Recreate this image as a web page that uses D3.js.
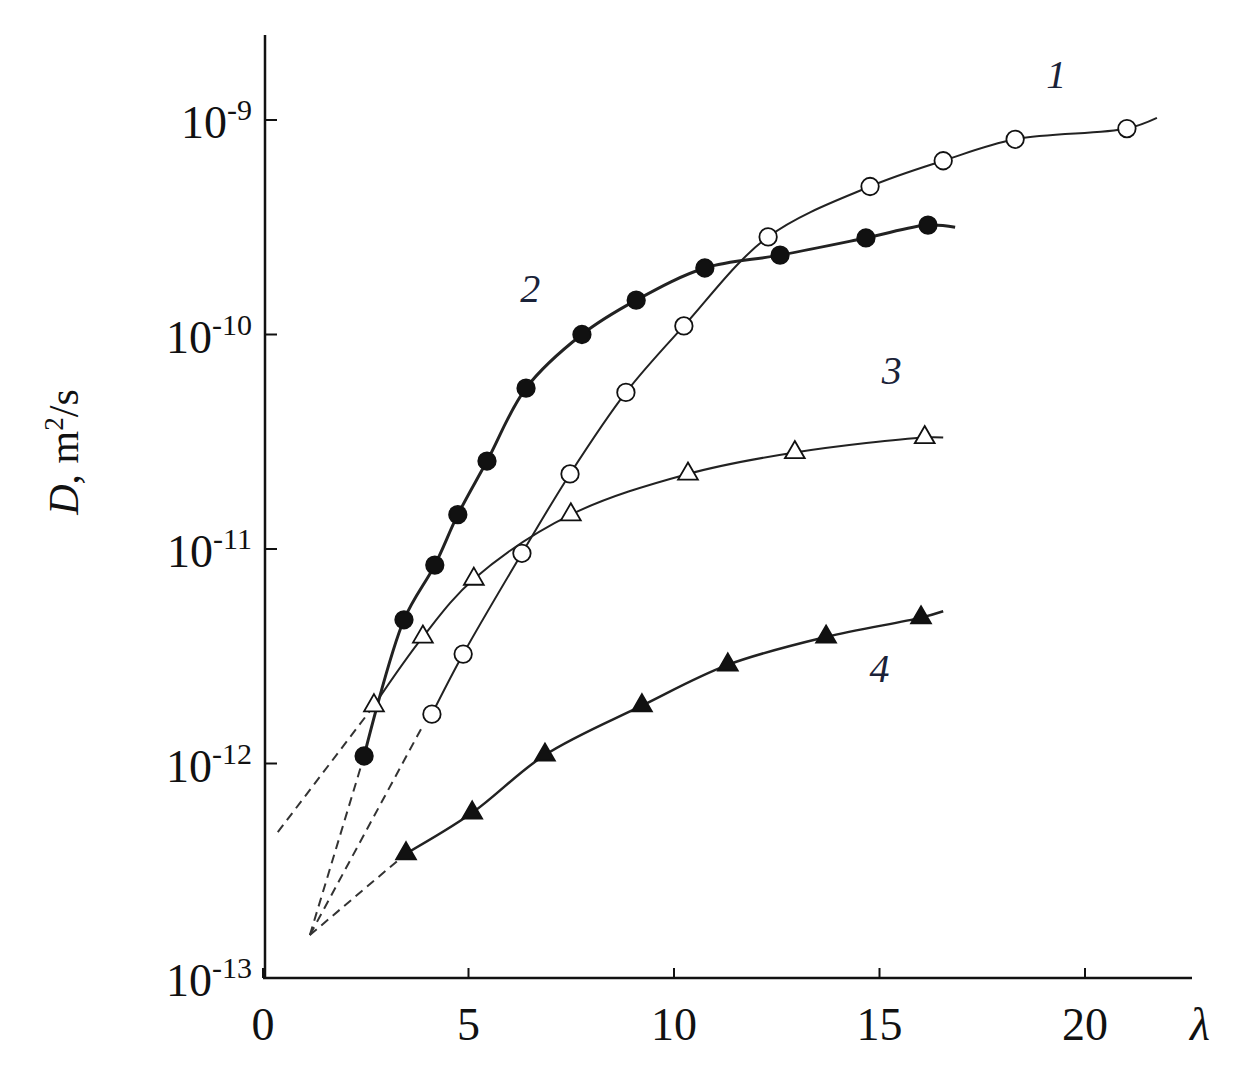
<!DOCTYPE html>
<html><head><meta charset="utf-8">
<script src="https://cdn.jsdelivr.net/npm/d3@7"></script>
<style>body{margin:0;background:#fff}</style>
</head><body>
<svg id="chart" width="1256" height="1080"></svg>
<script>
// Data: x = lambda, y = log10(D)
var series1 = [[4.11,-11.77],[4.87,-11.49],[6.30,-11.02],[7.47,-10.65],[8.83,-10.27],[10.24,-9.96],[12.29,-9.545],[14.77,-9.31],[16.55,-9.19],[18.30,-9.09],[21.02,-9.04]];
var series1End = [21.75,-8.99];
var series2 = [[2.46,-11.965],[3.43,-11.33],[4.18,-11.075],[4.74,-10.84],[5.45,-10.59],[6.40,-10.25],[7.76,-10.0],[9.08,-9.84],[10.75,-9.69],[12.58,-9.63],[14.67,-9.55],[16.18,-9.49]];
var series2End = [16.84,-9.50];
var series3 = [[2.70,-11.73],[3.89,-11.41],[5.13,-11.14],[7.49,-10.84],[10.34,-10.65],[12.94,-10.55],[16.10,-10.48]];
var series3End = [16.55,-10.48];
var series4 = [[3.48,-12.42],[5.09,-12.23],[6.86,-11.96],[9.22,-11.73],[11.31,-11.54],[13.70,-11.41],[16.01,-11.32]];
var series4End = [16.55,-11.29];
var dashed = [
  [[0.36,-12.32],[2.70,-11.73]],
  [[1.14,-12.80],[2.46,-11.965]],
  [[1.14,-12.80],[3.90,-11.82]],
  [[1.14,-12.80],[3.48,-12.42]]
];
var xTicks = [0,5,10,15,20];
var yTicks = [-13,-12,-11,-10,-9];
var curveLabels = [["1",19.3,-8.85],["2",6.5,-9.85],["3",15.3,-10.23],["4",15.0,-11.62]];

var svg = d3.select("#chart");
var x = d3.scaleLinear().domain([0,20]).range([263,1085]);
var y = d3.scaleLinear().domain([-13,-9]).range([978,120]);
var font = "'Liberation Serif','DejaVu Serif',serif";

// axes
svg.append("line").attr("x1",263).attr("x2",1192).attr("y1",978).attr("y2",978).attr("stroke","#111").attr("stroke-width",2.5);
svg.append("line").attr("x1",265).attr("x2",265).attr("y1",35).attr("y2",978).attr("stroke","#111").attr("stroke-width",2.5);

xTicks.forEach(function(t){
  svg.append("line").attr("x1",x(t)).attr("x2",x(t)).attr("y1",978).attr("y2",968).attr("stroke","#111").attr("stroke-width",2);
  svg.append("text").attr("x",x(t)).attr("y",1040).attr("text-anchor","middle")
    .attr("font-family",font).attr("font-size",46).attr("fill","#111").text(t);
});
svg.append("text").attr("x",1200).attr("y",1040).attr("text-anchor","middle").attr("font-family",font)
  .attr("font-style","italic").attr("font-size",46).attr("fill","#111").text("λ");

yTicks.forEach(function(t){
  svg.append("line").attr("x1",265).attr("x2",277).attr("y1",y(t)).attr("y2",y(t)).attr("stroke","#111").attr("stroke-width",2);
  var tx = svg.append("text").attr("x",252).attr("y",y(t)+18).attr("text-anchor","end")
    .attr("font-family",font).attr("font-size",46).attr("fill","#111");
  tx.append("tspan").text("10");
  tx.append("tspan").attr("dy",-18).attr("font-size",30).text(String(t).replace("-","-"));
});

var ylab = svg.append("text").attr("transform","translate(78,452) rotate(-90)").attr("text-anchor","middle")
  .attr("font-family",font).attr("font-size",42).attr("fill","#111");
ylab.append("tspan").attr("font-style","italic").text("D");
ylab.append("tspan").text(", m");
ylab.append("tspan").attr("dy",-15).attr("font-size",27).text("2");
ylab.append("tspan").attr("dy",15).text("/s");

var line = d3.line().x(function(d){return x(d[0]);}).y(function(d){return y(d[1]);}).curve(d3.curveCatmullRom);

dashed.forEach(function(d){
  svg.append("path").attr("d",d3.line().x(function(p){return x(p[0]);}).y(function(p){return y(p[1]);})(d))
    .attr("fill","none").attr("stroke","#333").attr("stroke-width",2).attr("stroke-dasharray","9,6");
});

function drawSeries(pts, end, filled, shape, sw){
  svg.append("path").attr("d",line(pts.concat([end]))).attr("fill","none").attr("stroke","#222").attr("stroke-width",sw);
  var sym = d3.symbol().type(shape === "circle" ? d3.symbolCircle : d3.symbolTriangle).size(shape === "circle" ? 240 : 170);
  svg.selectAll(null).data(pts).enter().append("path")
    .attr("d",sym).attr("transform",function(d){return "translate("+x(d[0])+","+y(d[1])+")";})
    .attr("fill",filled ? "#111" : "#fff").attr("stroke","#111").attr("stroke-width",1.8);
}
drawSeries(series1, series1End, false, "circle", 2);
drawSeries(series2, series2End, true, "circle", 3);
drawSeries(series3, series3End, false, "triangle", 2);
drawSeries(series4, series4End, true, "triangle", 2.5);

curveLabels.forEach(function(l){
  svg.append("text").attr("x",x(l[1])).attr("y",y(l[2])).attr("text-anchor","middle")
    .attr("font-family",font).attr("font-style","italic").attr("font-size",40).attr("fill","#1a2238").text(l[0]);
});
</script>
</body></html>
